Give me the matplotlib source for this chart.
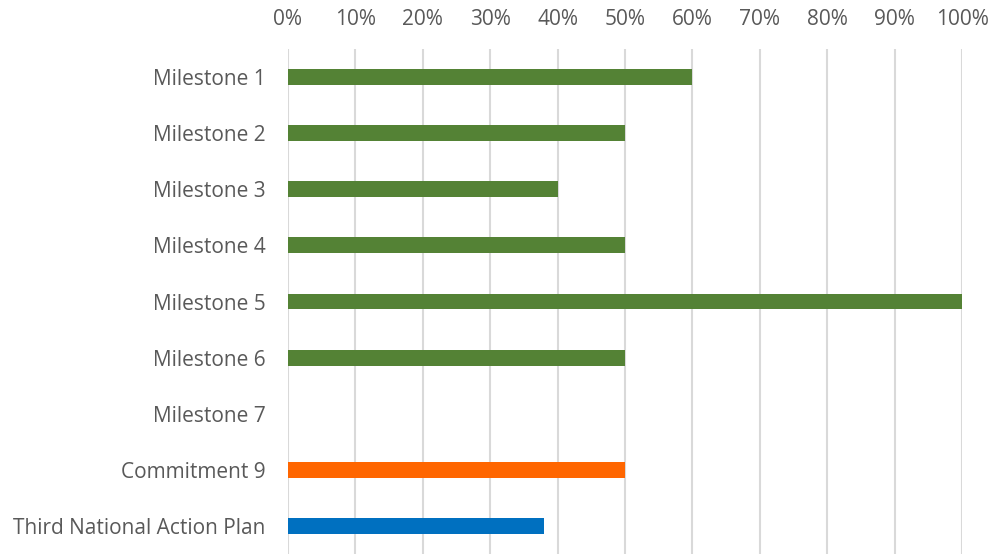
import matplotlib.pyplot as plt
from matplotlib.ticker import PercentFormatter

labels = ['Milestone 1', 'Milestone 2', 'Milestone 3', 'Milestone 4', 'Milestone 5',
          'Milestone 6', 'Milestone 7', 'Commitment 9', 'Third National Action Plan']
values = [0.60, 0.50, 0.40, 0.50, 1.00, 0.50, 0.0, 0.50, 0.38]
colors = ['#548235'] * 7 + ['#FF6600', '#0070C0']

plt.rcParams['font.family'] = ['Open Sans', 'DejaVu Sans']

fig = plt.figure(figsize=(9.93, 5.54), dpi=100)
ax = fig.add_axes([288 / 993, 0, (962 - 288) / 993, 1 - 49 / 554])

pos = list(range(len(labels)))
ax.barh(pos, values, height=0.285, color=colors, zorder=3)
ax.set_ylim(len(labels) - 0.5, -0.5)
ax.set_xlim(0, 1)
ax.set_yticks(pos)
ax.set_yticklabels(labels)
ax.set_xticks([i / 10 for i in range(11)])
ax.xaxis.set_major_formatter(PercentFormatter(1.0, decimals=0))
ax.xaxis.tick_top()
ax.tick_params(length=0, labelsize=15, colors='#595959')
ax.tick_params(axis='y', pad=16)
ax.tick_params(axis='x', pad=14)
ax.grid(axis='x', color='#D9D9D9', linewidth=1.5, zorder=0)
for s in ax.spines.values():
    s.set_visible(False)

fig.savefig('out.png', dpi=100)
